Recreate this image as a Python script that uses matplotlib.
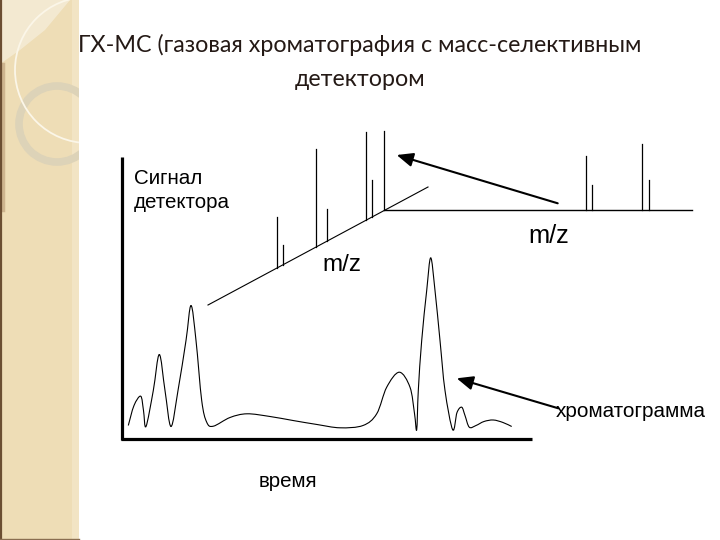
import numpy as np
import matplotlib
matplotlib.use("Agg")
import matplotlib.pyplot as plt
from matplotlib.path import Path
from matplotlib.patches import PathPatch, Rectangle, Circle, FancyArrowPatch, Polygon

# ---------------- data ----------------
title_lines = ["ГХ-МС (газовая хроматография с масс-селективным", "детектором"]
y_label_lines = ["Сигнал", "детектора"]
mz_label = "m/z"
chrom_label = "хроматограмма"
time_label = "время"

# chromatogram: time (arbitrary units) and detector signal (arbitrary units)
chrom_time = [6.3, 12.0, 18.7, 21.5, 24.0, 31.3, 37.3, 43.0, 49.0, 56.0, 64.0,
              69.0, 74.0, 79.7, 84.7, 91.3, 108.0, 125.0, 148.0, 171.0, 195.0,
              218.0, 241.0, 254.7, 264.7, 277.3, 288.0, 292.5, 294.7, 296.3,
              299.7, 304.7, 308.7, 313.0, 318.0, 323.0, 330.7, 335.0, 339.7,
              343.0, 347.3, 354.0, 362.0, 371.3, 381.0, 389.7]
chrom_signal = [13.0, 33.0, 42.3, 28.0, 12.0, 48.0, 84.0, 48.0, 12.0, 48.0, 98.0,
                133.0, 98.0, 38.0, 16.3, 12.3, 21.0, 24.7, 22.0, 18.0, 14.0,
                10.7, 13.0, 24.7, 51.3, 66.3, 51.3, 25.0, 8.7, 48.0, 98.0,
                148.0, 180.7, 148.0, 98.0, 48.0, 8.7, 26.0, 31.3, 23.0, 11.3,
                13.0, 17.0, 18.5, 16.0, 12.0]

# mass spectrum attached to the chromatogram (m/z position 0-100, intensity)
ms1_mz = [31.5, 34.2, 48.9, 54.2, 71.8, 74.7, 80.1]
ms1_int = [51, 20, 98, 32, 88, 37, 79]

# mass spectrum enlarged on the right (m/z position 0-100, intensity)
ms2_mz = [65.5, 67.6, 83.9, 86.0]
ms2_int = [54, 25, 66, 30]

# ---------------- figure ----------------
W, H = 720, 540
fig = plt.figure(figsize=(7.2, 5.4), dpi=100)
ax = fig.add_axes([0, 0, 1, 1])
ax.set_xlim(0, W)
ax.set_ylim(H, 0)
ax.axis("off")
fig.patch.set_facecolor("white")

# ---- decorative left strip ----
strip = Rectangle((0, 0), 79, H, facecolor="#EEDDB6", edgecolor="none", zorder=0)
ax.add_patch(strip)
ax.add_patch(Rectangle((72, 0), 7, H, facecolor="#F2E4C4", edgecolor="none", zorder=0.1))
light = Polygon([(0, 0), (70, 0), (45, 30), (20, 50), (0, 64)], closed=True,
                facecolor="#F5ECD6", edgecolor="none", zorder=0.2, alpha=0.85)
ax.add_patch(light)
ax.plot([2.5, 2.5], [64, 210], color="#B89A74", lw=2.5, alpha=0.6, zorder=0.3)
ring = Circle((57, 124), 38, facecolor="none", edgecolor="#DDD3B8", lw=5.5, zorder=0.5)
ax.add_patch(ring)
ring.set_clip_path(strip)
arc = Circle((88, 70), 73, facecolor="none", edgecolor="#FBF6E8", lw=1.3, zorder=0.6)
ax.add_patch(arc)
arc.set_clip_path(strip)
ax.plot([1, 1], [0, H], color="#6B4E32", lw=1.6, zorder=1)
ax.plot([0, 79], [538.5, 538.5], color="#8A6E50", lw=1.0, zorder=1)

# ---- helper: smooth path through points ----
def smooth_path(px, py):
    pts = np.column_stack([px, py]).astype(float)
    n = len(pts)
    verts = [pts[0]]
    codes = [Path.MOVETO]
    for i in range(n - 1):
        p0 = pts[max(i - 1, 0)]
        p1 = pts[i]
        p2 = pts[i + 1]
        p3 = pts[min(i + 2, n - 1)]
        c1 = p1 + (p2 - p0) / 6.0
        c2 = p2 - (p3 - p1) / 6.0
        verts += [c1, c2, p2]
        codes += [Path.CURVE4] * 3
    return Path(verts, codes)

# ---- chromatogram axes geometry (pixels) ----
x0, y0 = 122.0, 438.5          # origin
ax.plot([x0, x0], [157, y0 + 1], color="black", lw=2.3, solid_capstyle="butt", zorder=3)
ax.plot([x0 - 1, 532], [y0, y0], color="black", lw=2.3, solid_capstyle="butt", zorder=3)

cx = x0 + np.array(chrom_time)
cy = y0 - np.array(chrom_signal)
ax.add_patch(PathPatch(smooth_path(cx, cy), facecolor="none", edgecolor="black",
                       lw=0.8, zorder=3))

# ---- slanted mass spectrum ----
A = np.array([208.0, 305.0])
B = np.array([428.0, 187.0])
ax.plot([A[0], B[0]], [A[1], B[1]], color="black", lw=0.8, zorder=3)
for mz, it in zip(ms1_mz, ms1_int):
    base = A + (B - A) * mz / 100.0
    ax.plot([base[0], base[0]], [base[1], base[1] - it], color="black", lw=0.9, zorder=3)

# ---- enlarged mass spectrum ----
C0, C1, cyb = 384.0, 692.0, 210.0
ax.plot([C0, C1], [cyb, cyb], color="black", lw=1.0, zorder=3)
for mz, it in zip(ms2_mz, ms2_int):
    xx = C0 + (C1 - C0) * mz / 100.0
    ax.plot([xx, xx], [cyb, cyb - it], color="black", lw=0.9, zorder=3)

# ---- arrows ----
for start, end in [((557.7, 203.3), (396.7, 155.0)), ((558.3, 408.3), (456.7, 378.3))]:
    ax.add_patch(FancyArrowPatch(start, end, arrowstyle="-|>,head_length=0.7,head_width=0.3",
                                 mutation_scale=14, lw=1.5, color="black",
                                 shrinkA=0, shrinkB=0, zorder=4))

# ---- texts ----
renderer = fig.canvas.get_renderer()

def fit_text(x, y, s, width, family, ha="left", color="black", size=14):
    t = ax.text(x, y, s, ha=ha, va="baseline", fontsize=size, family=family,
                color=color, zorder=5)
    for _ in range(3):
        w = t.get_window_extent(renderer=renderer).width
        size *= width / w
        t.set_fontsize(size)
    return t

tfont = ["Lato", "DejaVu Sans"]
lfont = ["Liberation Sans", "DejaVu Sans"]
t1 = fit_text(360, 51.5, title_lines[0], 563, tfont, ha="center", color="#241915", size=15)
ax.text(360, 86.5, title_lines[1], ha="center", va="baseline",
        fontsize=t1.get_fontsize(), family=tfont, color="#241915", zorder=5)

l1 = fit_text(134, 184, y_label_lines[1], 96, lfont)
l1.set_position((134, 208))
ax.text(134, 184, y_label_lines[0], ha="left", va="baseline",
        fontsize=l1.get_fontsize(), family=lfont, color="black", zorder=5)
fit_text(322, 271, mz_label, 39, lfont)
fit_text(528, 243, mz_label, 41, lfont)
fit_text(556, 417, chrom_label, 150, lfont)
fit_text(259, 487, time_label, 59, lfont)

fig.savefig("out.png", dpi=100, facecolor="white")
